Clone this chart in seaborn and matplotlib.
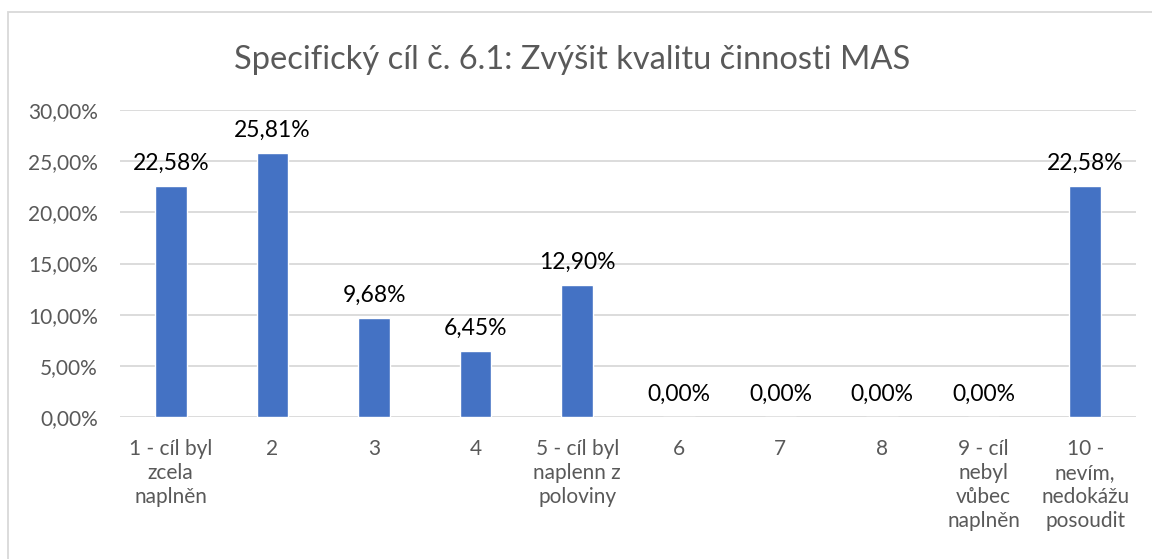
import matplotlib
matplotlib.use("Agg")
import matplotlib.pyplot as plt
import seaborn as sns
import pandas as pd
from matplotlib.patches import Rectangle

title = "Specifický cíl č. 6.1: Zvýšit kvalitu činnosti MAS"
categories = [
    "1 - cíl byl\nzcela\nnaplněn",
    "2",
    "3",
    "4",
    "5 - cíl byl\nnaplenn z\npoloviny",
    "6",
    "7",
    "8",
    "9 - cíl\nnebyl\nvůbec\nnaplněn",
    "10 -\nnevím,\nnedokážu\nposoudit",
]
shares = [22.58, 25.81, 9.68, 6.45, 12.90, 0.00, 0.00, 0.00, 0.00, 22.58]
y_ticks = [0, 5, 10, 15, 20, 25, 30]

sns.set_theme(style="white")
plt.rcParams["font.family"] = ["Lato", "DejaVu Sans"]

W, H, DPI = 1152, 559, 100
fig = plt.figure(figsize=(W / DPI, H / DPI), dpi=DPI)
ax = fig.add_axes([120 / W, 1 - 417 / H, (1136 - 120) / W, (417 - 110) / H])

df = pd.DataFrame({"cat": categories, "val": shares})
sns.barplot(data=df, x="cat", y="val", color="#4472C4", saturation=1,
            width=0.31, ax=ax)

def pct(v):
    return f"{v:.2f}".replace(".", ",") + "%"

ax.set_ylim(0, 30)
ax.set_xlim(-0.5, len(categories) - 0.5)
ax.set_yticks(y_ticks)
ax.set_yticklabels([pct(v) for v in y_ticks], color="#595959", fontsize=15)
ax.yaxis.grid(True, color="#D9D9D9", linewidth=1.3)
ax.set_axisbelow(True)
ax.tick_params(axis="y", length=0, pad=16)
ax.tick_params(axis="x", length=0, pad=16)
for lab in ax.get_xticklabels():
    lab.set_color("#595959")
    lab.set_fontsize(15)
    lab.set_linespacing(1.24)
    lab.set_verticalalignment("top")
ax.set_xlabel("")
ax.set_ylabel("")
for s in ax.spines.values():
    s.set_visible(False)

for i, v in enumerate(shares):
    ax.annotate(pct(v), (i, v), xytext=(0, 9), textcoords="offset points",
                ha="center", va="bottom", fontsize=16.5, color="black")

fig.text(572 / W, 1 - 60 / H, title, ha="center", va="center",
         fontsize=23.5, color="#595959")

fig.patches.append(Rectangle((8 / W, -0.1), 1.2, 1 - 12 / H + 0.1,
                             transform=fig.transFigure, fill=False,
                             edgecolor="#D9D9D9", linewidth=1.3))

fig.savefig("out.png", dpi=DPI)
